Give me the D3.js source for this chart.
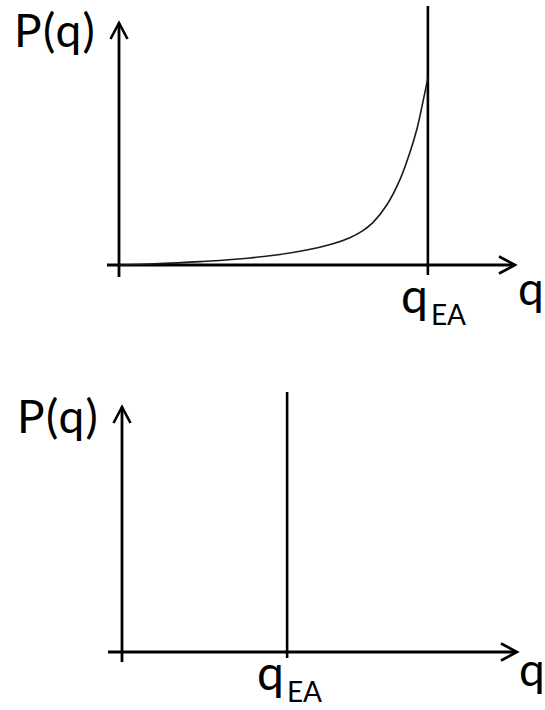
<!DOCTYPE html>
<html>
<head>
<meta charset="utf-8">
<script src="https://cdn.jsdelivr.net/npm/d3@7"></script>
<style>
  html, body { margin: 0; padding: 0; background: #fff; }
  svg { display: block; }
  text { font-family: Lato, "Noto Sans", sans-serif; fill: #000; }
</style>
</head>
<body>
<svg id="chart" width="545" height="710"></svg>
<script>
// Overlap distribution P(q): curve points along the q axis (axis length = 1)
const curveQ = [0, 0.078, 0.205, 0.331, 0.457, 0.540, 0.583, 0.614, 0.641, 0.677, 0.710, 0.735, 0.753, 0.768, 0.780];
const curveP = [0, 0.004, 0.014, 0.029, 0.057, 0.088, 0.113, 0.140, 0.175, 0.250, 0.355, 0.467, 0.566, 0.678, 0.773];
// Position of q_EA on each panel's q axis
const qEAValues = [0.78, 0.418];
// Axis labels
const yLabel = "P(q)";
const xLabel = "q";
const markLabel = "q";
const markSub = "EA";

const svg = d3.select("#chart");

// Panel geometry
const panels = [
  { x0: 119, x1: 515, y0: 265, y1: 23, xAxisStart: 107, yAxisEnd: 277, vTop: 6, vBottom: 275,
    ylab: [14, 47], xlab: [518, 305], mark: [401, 313], curve: true },
  { x0: 122, x1: 517, y0: 652, y1: 407, xAxisStart: 108, yAxisEnd: 662, vTop: 392, vBottom: 658,
    ylab: [17, 433], xlab: [519, 686], mark: [257, 690], curve: false }
];

function chevron(g, tipX, tipY, dir) {
  const back = 16, side = 8.5;
  let pts;
  if (dir === "right") pts = [[tipX - back, tipY - side], [tipX, tipY], [tipX - back, tipY + side]];
  else pts = [[tipX - side, tipY + back], [tipX, tipY], [tipX + side, tipY + back]];
  g.append("path")
    .attr("d", d3.line()(pts))
    .attr("fill", "none")
    .attr("stroke", "#000")
    .attr("stroke-width", 2.6)
    .attr("stroke-linejoin", "miter");
}

panels.forEach((p, i) => {
  const g = svg.append("g");
  const x = d3.scaleLinear().domain([0, 1]).range([p.x0, p.x1]);
  const y = d3.scaleLinear().domain([0, 1]).range([p.y0, p.y1]);

  // q axis
  g.append("line")
    .attr("x1", p.xAxisStart).attr("x2", x(1))
    .attr("y1", y(0)).attr("y2", y(0))
    .attr("stroke", "#000").attr("stroke-width", 2.8);
  chevron(g, x(1), y(0), "right");

  // P axis
  g.append("line")
    .attr("x1", x(0)).attr("x2", x(0))
    .attr("y1", p.yAxisEnd).attr("y2", y(1))
    .attr("stroke", "#000").attr("stroke-width", 2.8);
  chevron(g, x(0), y(1), "up");

  // q_EA line
  const qEA = qEAValues[i];
  g.append("line")
    .attr("x1", x(qEA)).attr("x2", x(qEA))
    .attr("y1", p.vTop).attr("y2", p.vBottom)
    .attr("stroke", "#000").attr("stroke-width", 2.6);

  // distribution curve
  if (p.curve) {
    const line = d3.line()
      .x(d => x(d[0]))
      .y(d => y(d[1]))
      .curve(d3.curveCatmullRom.alpha(0.5));
    g.append("path")
      .datum(curveQ.map((q, k) => [q, curveP[k]]))
      .attr("d", line)
      .attr("fill", "none")
      .attr("stroke", "#1a1a1a")
      .attr("stroke-width", 1.6);
  }

  // labels
  g.append("text").attr("x", p.ylab[0]).attr("y", p.ylab[1])
    .attr("font-size", 46).attr("letter-spacing", 1.5).text(yLabel);
  g.append("text").attr("x", p.xlab[0]).attr("y", p.xlab[1])
    .attr("font-size", 46).text(xLabel);
  const t = g.append("text").attr("x", p.mark[0]).attr("y", p.mark[1])
    .attr("font-size", 48);
  t.append("tspan").text(markLabel);
  t.append("tspan").attr("font-size", 28).attr("dx", 3).attr("dy", 12).text(markSub);
});
</script>
</body>
</html>
